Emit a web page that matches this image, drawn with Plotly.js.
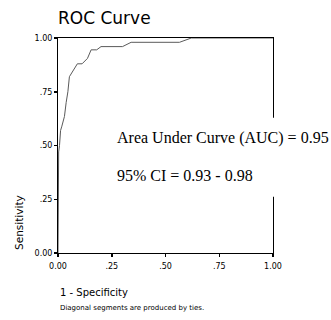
<!DOCTYPE html>
<html>
<head>
<meta charset="utf-8">
<script src="https://cdn.plot.ly/plotly-3.0.1.min.js"></script>
<style>html,body{margin:0;padding:0;background:#fff;}#chart{width:331px;height:320px;}</style>
</head>
<body>
<div id="chart"></div>
<script>
// 1 - Specificity (false positive rate)
var fpr = [0, 0, 0.003, 0.007, 0.012, 0.018, 0.030, 0.038, 0.046, 0.053, 0.069, 0.090, 0.112, 0.137, 0.154, 0.180, 0.200, 0.300, 0.340, 0.565, 0.620, 1.000];
// Sensitivity (true positive rate)
var tpr = [0, 0.42, 0.47, 0.50, 0.57, 0.59, 0.635, 0.70, 0.75, 0.82, 0.845, 0.88, 0.88, 0.905, 0.945, 0.945, 0.96, 0.96, 0.98, 0.98, 1.00, 1.00];
var tickVals = [0, 0.25, 0.5, 0.75, 1];
var tickText = ['0.00', '.25', '.50', '.75', '1.00'];
var titleText = 'ROC Curve';
var xTitle = '1 - Specificity';
var yTitle = 'Sensitivity';
var footnote = 'Diagonal segments are produced by ties.';
var aucText = 'Area Under Curve (AUC) = 0.95';
var ciText = '95% CI = 0.93 - 0.98';

var sans = 'DejaVu Sans, Verdana, sans-serif';
var serif = 'Liberation Serif, Times New Roman, serif';

var trace = {
  x: fpr, y: tpr, type: 'scatter', mode: 'lines',
  line: {color: '#5a5a5a', width: 1}, hoverinfo: 'skip'
};

var axisCommon = {
  range: [0, 1], showgrid: false, zeroline: false,
  showline: true, linecolor: '#000', linewidth: 1, mirror: true,
  ticks: 'outside', ticklen: 3, tickwidth: 1.5, tickcolor: '#000',
  tickvals: tickVals, ticktext: tickText,
  tickfont: {family: sans, size: 8, color: '#000'}, fixedrange: true
};

var layout = {
  width: 331, height: 320,
  margin: {l: 58, r: 58, t: 38, b: 67, pad: 0},
  paper_bgcolor: '#fff', plot_bgcolor: '#fff',
  showlegend: false,
  title: {text: titleText, x: 0, xref: 'paper', xanchor: 'left', y: 0.944, yref: 'container', yanchor: 'middle',
          font: {family: sans, size: 17, color: '#000'}},
  xaxis: Object.assign({}, axisCommon, {ticklabelstandoff: 2}),
  yaxis: Object.assign({}, axisCommon),
  shapes: [{type: 'rect', xref: 'paper', yref: 'paper', x0: 0.24, x1: 1.1, y0: 0.262, y1: 0.629,
            fillcolor: '#fff', line: {width: 0}, layer: 'above'}],
  annotations: [
    {text: aucText, xref: 'paper', yref: 'paper', x: 0.263, y: 0.536, xanchor: 'left', yanchor: 'middle',
     showarrow: false, font: {family: serif, size: 16, color: '#000'}},
    {text: ciText, xref: 'paper', yref: 'paper', x: 0.263, y: 0.36, xanchor: 'left', yanchor: 'middle',
     showarrow: false, font: {family: serif, size: 16, color: '#000'}},
    {text: yTitle, xref: 'paper', yref: 'paper', x: -0.179, y: 0.005, xanchor: 'center', yanchor: 'bottom',
     textangle: -90, showarrow: false, font: {family: sans, size: 10.5, color: '#000'}},
    {text: xTitle, xref: 'paper', yref: 'paper', x: 0.0, y: -0.183, xanchor: 'left', yanchor: 'middle',
     showarrow: false, font: {family: sans, size: 10, color: '#000'}},
    {text: footnote, xref: 'paper', yref: 'paper', x: 0.0, y: -0.254, xanchor: 'left', yanchor: 'middle',
     showarrow: false, font: {family: sans, size: 7, color: '#000'}}
  ]
};

Plotly.newPlot('chart', [trace], layout, {displayModeBar: false, staticPlot: true});
</script>
</body>
</html>
